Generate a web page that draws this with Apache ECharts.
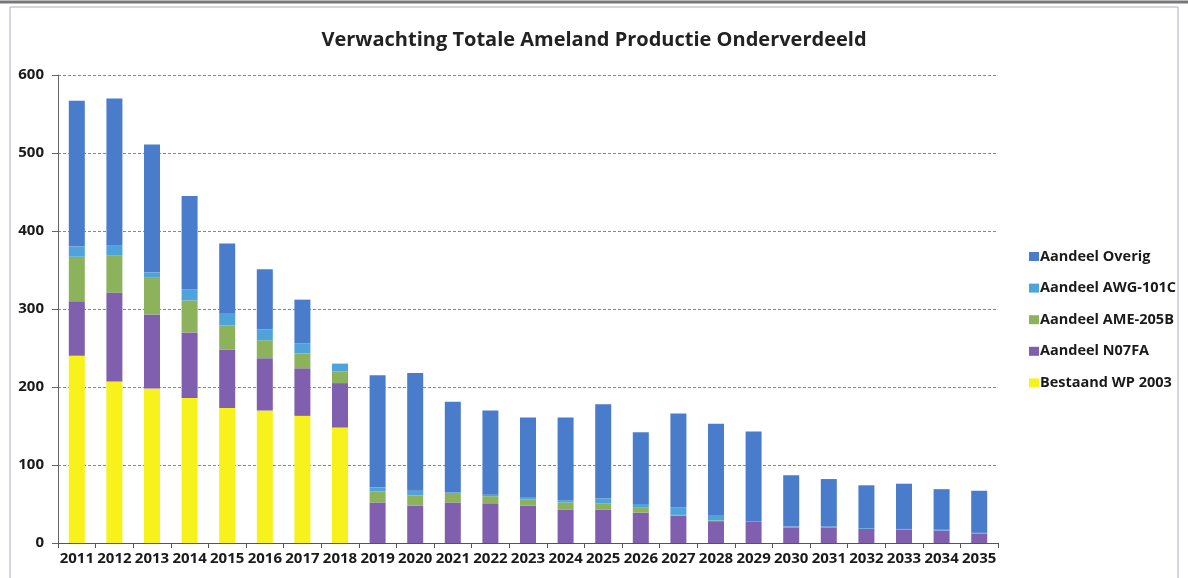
<!DOCTYPE html>
<html>
<head>
<meta charset="utf-8">
<script src="https://cdn.jsdelivr.net/npm/echarts@6/dist/echarts.min.js"></script>
<style>
  html, body { margin: 0; padding: 0; background: #fff; }
  #chart { width: 1188px; height: 578px; }
</style>
</head>
<body>
<div id="chart"></div>
<script>
// years on the x axis
const years = ["2011", "2012", "2013", "2014", "2015", "2016", "2017", "2018", "2019", "2020",
  "2021", "2022", "2023", "2024", "2025", "2026", "2027", "2028", "2029", "2030",
  "2031", "2032", "2033", "2034", "2035"];

// stacked values, bottom to top
const bestaandWP = [240, 207, 198, 186, 173, 170, 163, 148, 0, 0, 0, 0, 0, 0, 0, 0, 0, 0, 0, 0, 0, 0, 0, 0, 0];
const aandeelN07FA = [70, 114, 95, 84, 75, 67, 61, 57, 52, 48, 52, 50, 48, 43, 43, 39, 35, 28, 27, 20, 20, 18, 17, 16, 12];
const aandeelAME = [57, 48, 47, 41, 31, 23, 19, 15, 14, 13, 11, 10, 8, 9, 8, 7, 1, 1, 0, 0, 0, 0, 0, 0, 0];
const aandeelAWG = [13, 13, 7, 14, 15, 14, 13, 10, 5, 6, 2, 2, 2, 3, 6, 4, 10, 6, 1, 1, 1, 1, 1, 1, 1];
const aandeelOverig = [187, 188, 164, 120, 90, 77, 56, 0, 144, 151, 116, 108, 103, 106, 121, 92, 120, 118, 115, 66, 61, 55, 58, 52, 54];

const yTicks = [0, 100, 200, 300, 400, 500, 600];

const font = "Open Sans";

function echartSetup(container) {
  let myChart = echarts.init(container),
    option;

  let mk = function (name, data, color) {
    return {
      name: name,
      type: "bar",
      stack: "totaal",
      barWidth: 16,
      data: data,
      itemStyle: { color: color },
      emphasis: { disabled: true }
    };
  };

  option = {
    animation: false,
    backgroundColor: "#fff",
    title: {
      text: "Verwachting Totale Ameland Productie Onderverdeeld",
      left: "center",
      top: 25,
      textStyle: { fontFamily: font, fontSize: 20, fontWeight: "bold", color: "#222" }
    },
    legend: {
      orient: "vertical",
      left: 1024,
      top: 244,
      itemWidth: 10,
      itemHeight: 9,
      itemGap: 16.6,
      icon: "rect",
      data: ["Aandeel Overig", "Aandeel AWG-101C", "Aandeel AME-205B", "Aandeel N07FA", "Bestaand WP 2003"],
      textStyle: { fontFamily: font, fontSize: 14.5, fontWeight: "bold", color: "#1a1a1a", lineHeight: 14, padding: [0, 0, 0, -4] }
    },
    grid: { left: 58, right: 190, top: 75, bottom: 35 },
    xAxis: {
      type: "category",
      data: years,
      axisLine: { lineStyle: { color: "#555", width: 1 } },
      axisTick: { show: true, length: 5, lineStyle: { color: "#555" } },
      axisLabel: { interval: 0, margin: 8, fontFamily: font, fontSize: 15, fontWeight: "bold", color: "#1a1a1a" }
    },
    yAxis: {
      type: "value",
      min: yTicks[0],
      max: yTicks[yTicks.length - 1],
      interval: 100,
      axisLine: { show: true, lineStyle: { color: "#666", width: 1 } },
      axisTick: { show: true, length: 6, lineStyle: { color: "#666" } },
      axisLabel: { margin: 14, fontFamily: font, fontSize: 15, fontWeight: "bold", color: "#1a1a1a" },
      splitLine: { lineStyle: { color: "#7f84b8", type: [3, 2], width: 1 } }
    },
    graphic: [
      { type: "rect", shape: { x: 10, y: 7, width: 1168, height: 600 }, style: { fill: "none", stroke: "#a8acc8", lineWidth: 1 }, z: -1 },
      { type: "line", shape: { x1: 0, y1: 2, x2: 1188, y2: 2 }, style: { stroke: "#777", lineWidth: 3 }, z: -1 }
    ],
    series: [
      mk("Bestaand WP 2003", bestaandWP, "#f8f21c"),
      mk("Aandeel N07FA", aandeelN07FA, "#7f5fae"),
      mk("Aandeel AME-205B", aandeelAME, "#8cb35c"),
      mk("Aandeel AWG-101C", aandeelAWG, "#4fa3db"),
      mk("Aandeel Overig", aandeelOverig, "#4a7ccc")
    ]
  };

  if (option && typeof option === "object") myChart.setOption(option);
  window.addEventListener("resize", function () {
    myChart.resize();
  });
}

echartSetup(document.getElementById("chart"));
</script>
</body>
</html>
